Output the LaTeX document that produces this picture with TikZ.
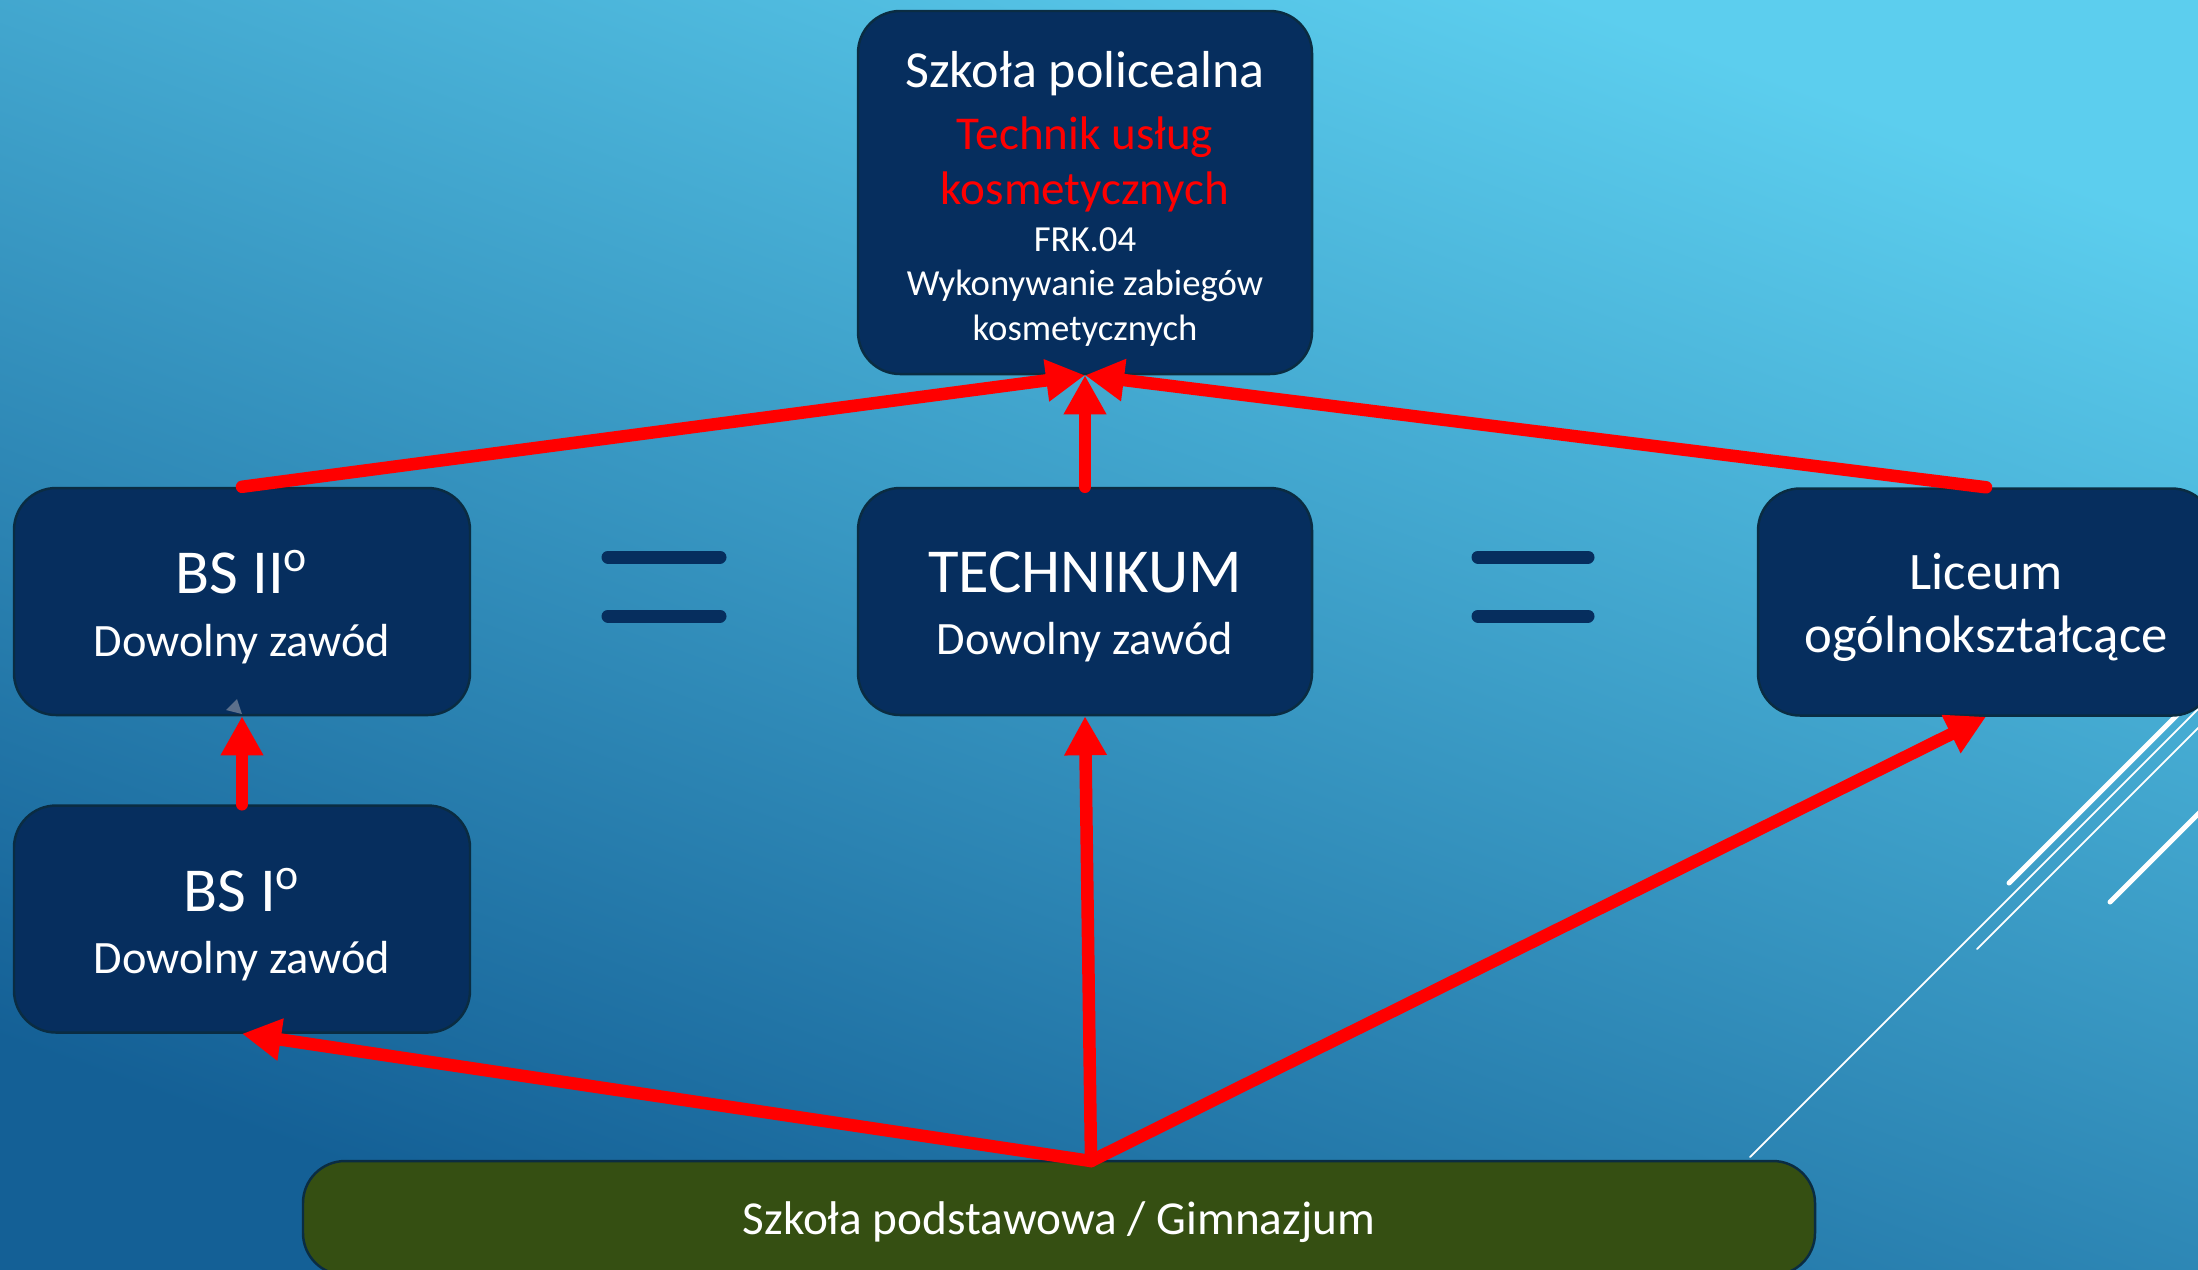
\documentclass[tikz,border=0pt]{standalone}
\usepackage{fontspec}
\setmainfont{Carlito}
\usetikzlibrary{arrows.meta}

\definecolor{bgtop}{RGB}{92,206,238}
\definecolor{bgbottom}{RGB}{20,96,150}
\definecolor{boxblue}{RGB}{6,46,94}
\definecolor{boxline}{RGB}{10,44,66}
\definecolor{boxgreen}{RGB}{53,79,18}
\definecolor{tipgray}{RGB}{92,112,140}

\newcommand{\shiftdown}[2]{\raisebox{-#1}[\height][\depth]{#2}}

\tikzset{
  school/.style={rounded corners=0.42cm, fill=boxblue, draw=boxline, line width=0.7pt,
    text=white, align=center, minimum width=4.56cm, minimum height=2.27cm},
  route/.style={draw=red, line width=0.125cm, line cap=round,
    -{Triangle[length=0.39cm,width=0.40cm]}},
  deco/.style={white, line cap=round}
}

\begin{document}
\begin{tikzpicture}
\clip (0,0) rectangle (21.98,-12.69);
\shade[top color=bgtop, bottom color=bgbottom, shading angle=-20] (0,0) rectangle (21.98,-12.69);

% white strokes on the right
\draw[deco, line width=0.05cm] (20.09,-8.83) -- ++(2.2,2.2);
\draw[deco, line width=0.05cm] (21.10,-9.02) -- ++(1.2,1.2);
\draw[deco, line width=0.018cm] (17.50,-11.57) -- ++(4.6,4.6);
\draw[deco, line width=0.018cm] (19.77,-9.49) -- ++(2.3,2.3);

\node[school, minimum width=4.54cm, minimum height=3.63cm,
  font=\fontsize{10.45}{16.5}\selectfont] (post) at (10.85,-1.925)
  {\shiftdown{1.8pt}{\fontsize{14.8}{16.5}\selectfont Szkoła policealna}\\[1.0pt]
   \shiftdown{1.8pt}{\fontsize{13.4}{16.5}\selectfont\color{red}Technik usług}\\[-0.9pt]
   \shiftdown{1.8pt}{\fontsize{13.4}{16.5}\selectfont\color{red}kosmetycznych}\\[-3.0pt]
   \shiftdown{1.8pt}{FRK.04}\\[-3.9pt]
   \shiftdown{1.8pt}{Wykonywanie zabiegów}\\[-3.9pt]
   \shiftdown{1.8pt}{kosmetycznych}};

\node[school, font=\fontsize{13.2}{17.8}\selectfont] (bs2) at (2.42,-6.015)
  {\shiftdown{1.6pt}{\fontsize{17.8}{21}\selectfont BS II\textsuperscript{o}}\\
   \shiftdown{1.6pt}{Dowolny zawód}};
\node[school, font=\fontsize{13.2}{17.8}\selectfont] (bs1) at (2.42,-9.19)
  {\shiftdown{1.6pt}{\fontsize{17.8}{21}\selectfont BS I\textsuperscript{o}}\\
   \shiftdown{1.6pt}{Dowolny zawód}};
\node[school, minimum width=4.54cm, font=\fontsize{13.2}{17.8}\selectfont] (tech) at (10.85,-6.015)
  {\shiftdown{1.6pt}{\fontsize{17.8}{21}\selectfont TECHNIKUM}\\
   \shiftdown{1.6pt}{Dowolny zawód}};
\node[school, font=\fontsize{15}{17.9}\selectfont] (lic) at (19.86,-6.02)
  {\shiftdown{1.4pt}{Liceum}\\ \shiftdown{1.4pt}{ogólnokształcące}};

\node[school, fill=boxgreen, minimum width=15.12cm, minimum height=1.14cm,
  font=\fontsize{13.45}{17}\selectfont] (base) at (10.59,-12.18)
  {\shiftdown{1.2pt}{Szkoła podstawowa / Gimnazjum}};

% equal signs
\draw[boxblue, line width=0.13cm, line cap=round]
  (6.08,-5.57) -- (7.20,-5.57) (6.08,-6.16) -- (7.20,-6.16);
\draw[boxblue, line width=0.13cm, line cap=round]
  (14.78,-5.57) -- (15.88,-5.57) (14.78,-6.16) -- (15.88,-6.16);

\coordinate (hub) at (10.91,-11.61);

\draw[route] (bs2.north) -- (post.south);
\draw[route] (tech.north) -- (post.south);
\draw[route] (lic.north) -- (post.south);
\draw[route] (bs1.north) -- (bs2.south);
\draw[route] (hub) -- (bs1.south);
\draw[route] (hub) -- (tech.south);
\draw[route] (hub) -- (lic.south);

\fill[tipgray] (2.26,-7.10) -- (2.37,-6.99) -- (2.42,-7.14) -- cycle;
\end{tikzpicture}
\end{document}
